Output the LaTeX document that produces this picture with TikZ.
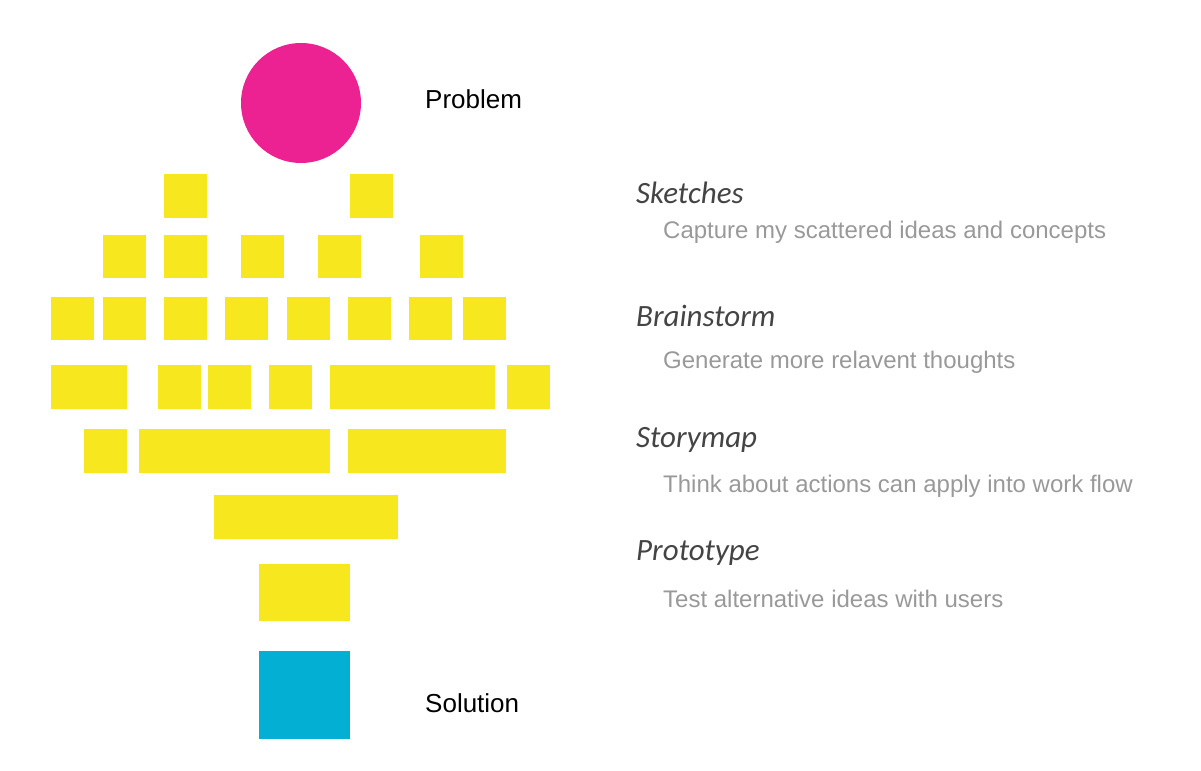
\documentclass[tikz,border=0pt]{standalone}
\usepackage{fontspec}
\setmainfont{Liberation Sans}
\newfontfamily\headfont{Carlito}
\begin{document}
\definecolor{noteyellow}{HTML}{F7E71F}
\definecolor{problempink}{HTML}{EC2192}
\definecolor{solutionblue}{HTML}{04AFD4}
\definecolor{headgray}{HTML}{444444}
\definecolor{descgray}{HTML}{999999}
\begin{tikzpicture}[x=1bp,y=-1bp,
  note/.style={fill=noteyellow},
  endlabel/.style={anchor=base west,inner sep=0pt,text=black,font=\fontsize{26bp}{30bp}\selectfont},
  stagehead/.style={anchor=base west,inner sep=0pt,text=headgray,font=\headfont\itshape\fontsize{31bp}{36bp}\selectfont},
  stagedesc/.style={anchor=base west,inner sep=0pt,text=descgray,font=\fontsize{24bp}{28bp}\selectfont}]
\useasboundingbox (0,0) rectangle (1201,771);

% problem
\fill[problempink] (301,103) circle (60);
\node[endlabel] (problem) at (425,109) {Problem};

% sticky notes, row by row (left edges; each note is 43 wide)
\foreach \x in {164,350} \fill[note] (\x,174) rectangle ++(43,44);
\foreach \x in {103,164,241,318,420} \fill[note] (\x,235) rectangle ++(43,43);
\foreach \x in {51,103,164,225,287,348,409,463} \fill[note] (\x,297) rectangle ++(43,43);
\foreach \x in {51,84,158,208,269,330,369,409,452,507} \fill[note] (\x,365) rectangle ++(43,44);
% clustered notes in one block each
\fill[note] (51,365) rectangle (127,409);
\fill[note] (330,365) rectangle (495,409);
\foreach \x in {84,139,165,182,225,269,287,348,391,409,420,463} \fill[note] (\x,429) rectangle ++(43,44);
\fill[note] (139,429) rectangle (330,473);
\fill[note] (348,429) rectangle (506,473);
\fill[note] (214,495) rectangle (398,539);
\fill[note] (259,564) rectangle (350,621);

% solution
\fill[solutionblue] (259,651) rectangle (350,739);
\node[endlabel] (solution) at (425,712) {Solution};

% stages
\node[stagehead] (sketches) at (636,203) {Sketches};
\node[stagedesc] (sketchesd) at (663,238) {Capture my scattered ideas and concepts};
\node[stagehead] (brainstorm) at (636,326) {Brainstorm};
\node[stagedesc] (brainstormd) at (663,368) {Generate more relavent thoughts};
\node[stagehead] (storymap) at (636,447) {Storymap};
\node[stagedesc] (storymapd) at (663,492) {Think about actions can apply into work flow};
\node[stagehead] (prototype) at (636,560) {Prototype};
\node[stagedesc] (prototyped) at (663,607) {Test alternative ideas with users};
\end{tikzpicture}
\end{document}
